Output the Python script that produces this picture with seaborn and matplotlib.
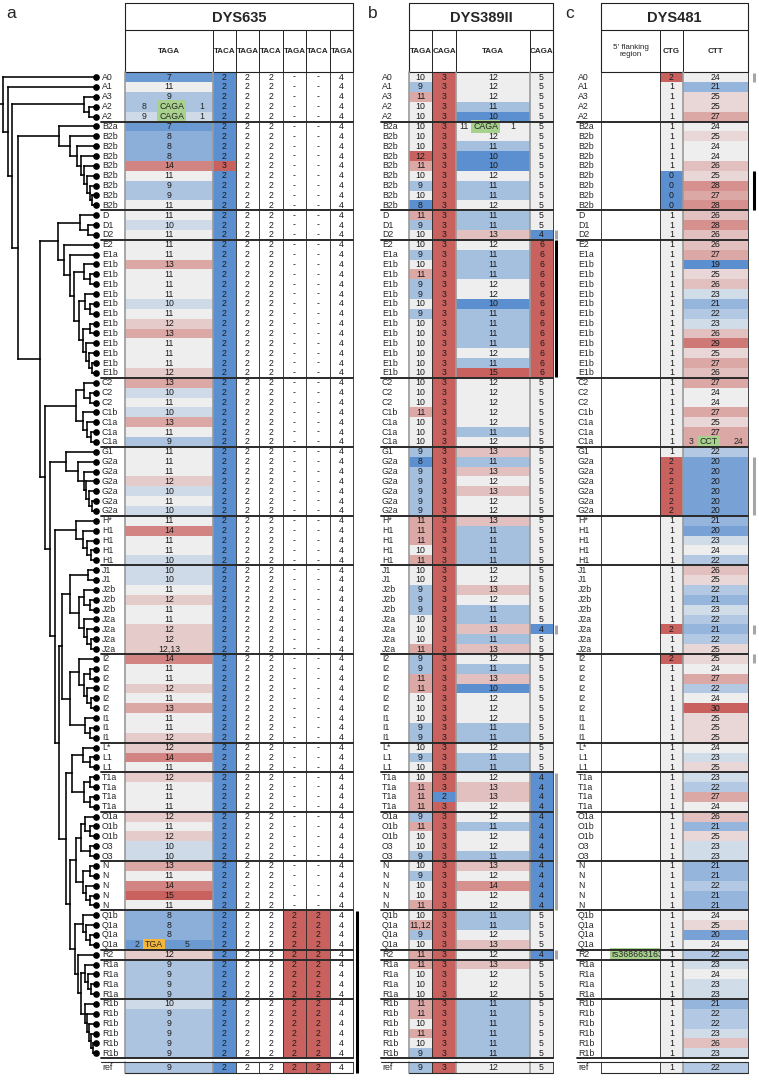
import re
import numpy as np
import matplotlib.pyplot as plt
import seaborn as sns
from matplotlib.colors import LinearSegmentedColormap, ListedColormap

sns.set_theme(style='white')
plt.rcParams['font.family'] = ['Liberation Sans Narrow', 'Liberation Sans', 'DejaVu Sans']

# ------------------------------------------------------------
# DATA  (one line per haplogroup block, rows top -> bottom)
# ------------------------------------------------------------
haplogroups_txt = """
A0 A1 A3 A2 A2
B2a B2b B2b B2b B2b B2b B2b B2b B2b
D D1 D2
E2 E1a E1b E1b E1b E1b E1b E1b E1b E1b E1b E1b E1b E1b
C2 C2 C2 C1b C1a C1a C1a
G1 G2a G2a G2a G2a G2a G2a
H* H1 H1 H1 H1
J1 J1 J2b J2b J2b J2a J2a J2a J2a
I2 I2 I2 I2 I2 I2 I1 I1 I1
L* L1 L1
T1a T1a T1a T1a
O1a O1b O1b O3 O3
N N N N N
Q1b Q1a Q1a Q1a
R2
R1a R1a R1a R1a
R1b R1b R1b R1b R1b R1b
"""
groups = [ln.split() for ln in haplogroups_txt.strip().splitlines()]
haplogroups = [h for g in groups for h in g]
group_sizes = [len(g) for g in groups]


def col(txt):
    return txt.split()


# DYS635  ("a+MOTIF+b" = interrupted repeat)
dys635_taga = col("""
7 11 9 8+CAGA+1 9+CAGA+1
7 8 8 8 14 11 9 9 11
11 10 11
11 11 13 11 11 11 10 11 12 13 11 11 11 12
13 10 11 10 13 11 9
11 11 11 12 10 11 10
11 14 11 11 10
10 10 11 12 11 11 12 12 12,13
14 11 11 12 11 13 11 11 12
12 14 11
12 11 11 11
12 11 12 10 10
13 11 14 15 11
8 8 8 2+TGA+5
12
9 9 9 9
10 9 9 9 9 9
""")
dys635_taca = col("""
2 2 2 2 2
2 2 2 2 3 2 2 2 2
2 2 2
2 2 2 2 2 2 2 2 2 2 2 2 2 2
2 2 2 2 2 2 2
2 2 2 2 2 2 2
2 2 2 2 2
2 2 2 2 2 2 2 2 2
2 2 2 2 2 2 2 2 2
2 2 2
2 2 2 2
2 2 2 2 2
2 2 2 2 2
2 2 2 2
2
2 2 2 2
2 2 2 2 2 2
""")
dys635_taga2 = ['2'] * len(haplogroups)
dys635_taca2 = ['2'] * len(haplogroups)
dys635_extra = col("""
- - - - -
- - - - - - - - -
- - -
- - - - - - - - - - - - - -
- - - - - - -
- - - - - - -
- - - - -
- - - - - - - - -
- - - - - - - - -
- - -
- - - -
- - - - -
- - - - -
2 2 2 2
2
2 2 2 2
2 2 2 2 2 2
""")
dys635_taga4 = ['4'] * len(haplogroups)

# DYS389II
dys389_taga1 = col("""
10 9 11 10 10
10 10 10 12 11 10 9 10 8
11 9 10
10 9 10 11 9 9 10 9 10 10 10 10 10 10
10 10 10 11 10 10 10
9 8 9 9 9 9 9
11 11 11 10 11
10 10 9 9 9 10 10 10 11
9 9 11 11 10 10 10 9 9
10 9 10
10 11 11 11
9 11 10 10 9
10 9 10 10 11
10 11,12 9 10
11
11 10 10 10
11 11 10 11 10 9
""")
dys389_caga1 = col("""
3 3 3 3 3
3 3 3 3 3 3 3 3 3
3 3 3
3 3 3 3 3 3 3 3 3 3 3 3 3 3
3 3 3 3 3 3 3
3 3 3 3 3 3 3
3 3 3 3 3
3 3 3 3 3 3 3 3 3
3 3 3 3 3 3 3 3 3
3 3 3
3 3 2 3
3 3 3 3 3
3 3 3 3 3
3 3 3 3
3
3 3 3 3
3 3 3 3 3 3
""")
dys389_taga2 = col("""
12 12 12 11 10
11+CAGA+1 12 11 10 10 12 11 11 12
11 11 13
12 11 11 11 12 12 10 11 11 11 11 12 11 15
12 12 12 12 12 11 12
13 11 13 12 13 12 12
13 11 11 11 11
12 12 13 12 11 11 13 11 13
12 11 13 10 12 12 12 11 11
12 11 11
12 13 13 12
12 11 12 12 11
13 12 14 12 12
11 11 12 13
12
13 12 12 12
11 11 11 11 11 11
""")
dys389_caga2 = col("""
5 5 5 5 5
5 5 5 5 5 5 5 5 5
5 5 4
6 6 6 6 6 6 6 6 6 6 6 6 6 6
5 5 5 5 5 5 5
5 5 5 5 5 5 5
5 5 5 5 5
5 5 5 5 5 5 4 5 5
5 5 5 5 5 5 5 5 5
5 5 5
4 4 4 4
4 4 4 4 4
4 4 4 4 4
5 5 5 5
4
5 5 5 5
5 5 5 5 5 5
""")

# DYS481  ("." = empty cell)
dys481_flank = col("""
. . . . .
. . . . . . . . .
. . .
. . . . . . . . . . . . . .
. . . . . . .
. . . . . . .
. . . . .
. . . . . . . . .
. . . . . . . . .
. . .
. . . .
. . . . .
. . . . .
. . . .
rs368663163
. . . .
. . . . . .
""")
dys481_ctg = col("""
2 1 1 1 1
1 1 1 1 1 0 0 0 0
1 1 1
1 1 1 1 1 1 1 1 1 1 1 1 1 1
1 1 1 1 1 1 1
1 2 2 2 2 2 2
1 1 1 1 1
1 1 1 1 1 1 2 1 1
2 1 1 1 1 1 1 1 1
1 1 1
1 1 1 1
1 1 1 1 1
1 1 1 1 1
1 1 1 1
1
1 1 1 1
1 1 1 1 1 1
""")
dys481_ctt = col("""
24 21 25 25 27
24 25 24 24 26 25 28 27 28
26 28 26
26 27 19 25 26 23 21 22 23 26 29 25 27 26
27 24 24 27 25 27 3+CCT+24
22 20 20 20 20 20 20
21 20 23 24 22
26 25 22 21 23 22 21 22 25
25 24 27 22 24 30 25 25 25
24 23 25
23 22 27 24
26 21 25 23 23
21 21 22 21 21
24 25 20 24
22
23 24 23 23
21 22 22 23 26 23
""")

ref_dys635 = ['9', '2', '2', '2', '2', '2', '4']
ref_dys389 = ['9', '3', '12', '5']
ref_dys481 = ['.', '1', '22']

# phylogeny (Newick, internal label = relative node depth, tips = 100)
tree_newick = (
    "(A0,(A1,((A3,(A2,A2)93)88,((B2a,(B2b,(B2b,(B2b,(B2b,(B2b,(B2b,(B2b,B2b)96)94)91)88)84)80)73)61,"
    "(((D,(D1,D2)92)83,(E2,(E1a,((E1b,(E1b,E1b)94)88,((E1b,(E1b,E1b)94)89,((E1b,E1b)94,"
    "(E1b,(E1b,(E1b,E1b)96)93)90)86)82)77)73)67)60,"
    "(((C2,(C2,C2)94)88,(C1b,(C1a,(C1a,C1a)95)91)86)79,"
    "((G1,(G2a,(G2a,(G2a,(G2a,(G2a,G2a)96)93)90)87)81)69,"
    "((H*,(H1,(H1,(H1,H1)95)91)86)79,"
    "((((J1,J1)92,((J2b,(J2b,J2b)94)88,(J2a,(J2a,(J2a,J2a)95)91)87)82)73,"
    "((I2,((I2,I2)94,(I2,(I2,I2)95)91)88)82,(I1,(I1,I1)94)89)73)65,"
    "(((L*,(L1,L1)94)86,((T1a,T1a)94,(T1a,T1a)94)88)75,"
    "((((O1a,(O1b,O1b)94)89,(O3,O3)94)84,((N,N)94,(N,(N,N)94)90)86)79,"
    "((Q1b,(Q1a,(Q1a,Q1a)94)90)86,(R2,((R1a,(R1a,(R1a,R1a)95)92)89,"
    "(R1b,(R1b,(R1b,(R1b,(R1b,R1b)97)95)93)91)89)84)81)78)73)69)61)57)52)47)42)19)12)8)3"
)

# ------------------------------------------------------------
# LAYOUT / STYLE
# ------------------------------------------------------------
W, H = 759, 1083
N = len(haplogroups)
ROW_TOP, ROW_H = 72.2, 9.86
MAIN_BOT = ROW_TOP + N * ROW_H
REF_TOP = MAIN_BOT + 3.5
REF_BOT = REF_TOP + 11.5
HEAD_TOP, HEAD_MID = 3, 30
TIP_X = 96
FS = 6.3
FS_HEAD = 5.8

BLUE, GREY, RED = '#5B8FCF', '#EFEFEF', '#C9625F'
div_cmap = LinearSegmentedColormap.from_list('div', [BLUE, GREY, RED])
white_cmap = ListedColormap(['white'])
flag_cmap = ListedColormap(['white', RED])
motif_colour = {'CAGA': '#A9D18E', 'CCT': '#A9D18E', 'TGA': '#F4B63A', 'rs': '#A9D18E'}
insert_pos = {('dys635_taga', 'CAGA'): (0.22, 0.53, 0.87),
              ('dys635_taga', 'TGA'): (0.14, 0.33, 0.71),
              ('dys389_taga2', 'CAGA'): (0.11, 0.40, 0.77),
              ('dys481_ctt', 'CCT'): (0.13, 0.40, 0.85)}

panels = [
    dict(letter='a', letter_x=6, label_x=101, title='DYS635',
         edges=[125, 213, 236, 259, 283, 306, 330, 353],
         edge_col=['#9a9a9a', '#9a9a9a', '#222', '#222', '#222', '#222', '#222', '#222'],
         marker_x=357,
         cols=[('dys635_taga', dys635_taga, ref_dys635[0], 'scale', (6.5, 11, 15), 'TAGA'),
               ('dys635_taca', dys635_taca, ref_dys635[1], 'scale', (2, 2.5, 3), 'TACA'),
               ('dys635_taga2', dys635_taga2, ref_dys635[2], 'white', None, 'TAGA'),
               ('dys635_taca2', dys635_taca2, ref_dys635[3], 'white', None, 'TACA'),
               ('dys635_taga3', dys635_extra, ref_dys635[4], 'flag', None, 'TAGA'),
               ('dys635_taca3', dys635_extra, ref_dys635[5], 'flag', None, 'TACA'),
               ('dys635_taga4', dys635_taga4, ref_dys635[6], 'white', None, 'TAGA')]),
    dict(letter='b', letter_x=368, label_x=381, title='DYS389II',
         edges=[409, 432, 456, 530, 553],
         edge_col=['#9a9a9a', '#222', '#9a9a9a', '#9a9a9a', '#222'],
         marker_x=556,
         cols=[('dys389_taga1', dys389_taga1, ref_dys389[0], 'scale', (8, 10, 12), 'TAGA'),
               ('dys389_caga1', dys389_caga1, ref_dys389[1], 'scale', (2, 2.5, 3), 'CAGA'),
               ('dys389_taga2', dys389_taga2, ref_dys389[2], 'scale', (10, 12, 15), 'TAGA'),
               ('dys389_caga2', dys389_caga2, ref_dys389[3], 'scale', (4, 5, 6), 'CAGA')]),
    dict(letter='c', letter_x=565, label_x=577, title='DYS481',
         edges=[601, 660, 683, 748],
         edge_col=['#222', '#222', '#9a9a9a', '#222'],
         marker_x=754,
         cols=[('dys481_flank', dys481_flank, ref_dys481[0], 'white', None, "5' flanking\nregion"),
               ('dys481_ctg', dys481_ctg, ref_dys481[1], 'scale', (0, 1, 2), 'CTG'),
               ('dys481_ctt', dys481_ctt, ref_dys481[2], 'scale', (19, 24, 30), 'CTT')]),
]

# rows flagged with a bar to the right of each table: value -> colour
marker_rules = [({'2': 'black'}, dys635_extra, ref_dys635[4]),
                ({'4': '#a6a6a6', '6': 'black'}, dys389_caga2, ref_dys389[3]),
                ({'2': '#a6a6a6', '0': 'black'}, dys481_ctg, ref_dys481[1])]


def numeric(tok):
    if '+' in tok:
        a, _, b = tok.split('+')
        return float(a) + float(b)
    return float(tok.split(',')[0])


def colour_values(tokens, kind, scale):
    if kind == 'scale':
        lo, mid, hi = scale
        v = np.array([numeric(t) for t in tokens])
        v = np.where(v < mid, (v - mid) / (mid - lo), (v - mid) / (hi - mid))
        return np.clip(v, -1, 1), div_cmap, -1, 1
    if kind == 'flag':
        return np.array([0.0 if t == '-' else 1.0 for t in tokens]), flag_cmap, 0, 1
    return np.zeros(len(tokens)), white_cmap, 0, 1


def row_top(i):
    return ROW_TOP + i * ROW_H if i < N else REF_TOP


def row_bot(i):
    return ROW_TOP + (i + 1) * ROW_H if i < N else REF_BOT


def row_mid(i):
    return (row_top(i) + row_bot(i)) / 2


fig = plt.figure(figsize=(W / 100, H / 100), dpi=100)


def draw_block(name, tokens, kind, scale, x0, x1, y0, y1):
    ax = fig.add_axes([x0 / W, 1 - y1 / H, (x1 - x0) / W, (y1 - y0) / H])
    vals, cmap, vmin, vmax = colour_values(tokens, kind, scale)
    annot = np.array([['' if ('+' in t or t == '.' or t.startswith('rs')) else t]
                      for t in tokens])
    sns.heatmap(vals.reshape(-1, 1), ax=ax, cmap=cmap, vmin=vmin, vmax=vmax,
                cbar=False, annot=annot, fmt='',
                annot_kws={'fontsize': FS, 'color': '#1a1a1a'},
                xticklabels=False, yticklabels=False)
    ax.set_axis_off()
    for i, t in enumerate(tokens):
        if '+' in t:
            left, motif, right = t.split('+')
            px = insert_pos[(name, motif)]
            ax.text(px[0], i + 0.5, left, ha='center', va='center', fontsize=FS)
            ax.text(px[1], i + 0.5, motif, ha='center', va='center', fontsize=FS,
                    bbox=dict(boxstyle='square,pad=0.2', fc=motif_colour[motif], ec='none'))
            ax.text(px[2], i + 0.5, right, ha='center', va='center', fontsize=FS)
        elif t.startswith('rs'):
            ax.text(0.62, i + 0.5, t, ha='center', va='center', fontsize=FS,
                    bbox=dict(boxstyle='square,pad=0.2', fc=motif_colour['rs'], ec='none'))


for p in panels:
    for (name, tokens, ref, kind, scale, _), x0, x1 in zip(p['cols'], p['edges'][:-1], p['edges'][1:]):
        draw_block(name, tokens, kind, scale, x0, x1, ROW_TOP, MAIN_BOT)
        draw_block(name, [ref], kind, scale, x0, x1, REF_TOP, REF_BOT)

# overlay for tree, labels, rules and headers (pixel coordinates)
ov = fig.add_axes([0, 0, 1, 1], zorder=10)
ov.set_xlim(0, W)
ov.set_ylim(H, 0)
ov.set_axis_off()
ov.patch.set_alpha(0)

group_bounds = np.cumsum(group_sizes)[:-1]

for p, (rule, tokens, ref) in zip(panels, marker_rules):
    e = p['edges']
    x_first, x_last = e[0], e[-1]
    ov.text(p['letter_x'], 14, p['letter'], fontsize=12.5, va='center', ha='left')
    # header
    for y in (HEAD_TOP, HEAD_MID, ROW_TOP):
        ov.plot([x_first, x_last], [y, y], color='#222', lw=0.8)
    ov.plot([x_first, x_first], [HEAD_TOP, ROW_TOP], color='#222', lw=0.8)
    ov.plot([x_last, x_last], [HEAD_TOP, ROW_TOP], color='#222', lw=0.8)
    for x in e[1:-1]:
        ov.plot([x, x], [HEAD_MID, ROW_TOP], color='#222', lw=0.7)
    ov.text((x_first + x_last) / 2, (HEAD_TOP + HEAD_MID) / 2 + 1, p['title'],
            fontsize=10.5, fontweight='bold', ha='center', va='center')
    for c, x0, x1 in zip(p['cols'], e[:-1], e[1:]):
        multi = '\n' in c[5]
        ov.text((x0 + x1) / 2, (HEAD_MID + ROW_TOP) / 2, c[5], ha='center', va='center',
                fontsize=FS_HEAD, fontweight='normal' if multi else 'bold', linespacing=1.1)
    # column edges
    for x, ec in zip(e, p['edge_col']):
        lw = 1.2 if ec != '#222' else 0.6
        ov.plot([x, x], [ROW_TOP, MAIN_BOT], color=ec, lw=lw)
        ov.plot([x, x], [REF_TOP, REF_BOT], color=ec, lw=lw)
    # row labels
    for i, h in enumerate(haplogroups + ['ref']):
        ov.text(p['label_x'] + 1, row_mid(i), h, fontsize=FS, ha='left', va='center')
    # block separators
    for b in group_bounds:
        y = ROW_TOP + b * ROW_H
        ov.plot([p['label_x'], x_last], [y, y], color='#2a2a2a', lw=1.4)
    ov.plot([p['label_x'], x_last], [MAIN_BOT, MAIN_BOT], color='#2a2a2a', lw=1.4)
    ov.plot([p['label_x'], x_last], [REF_TOP, REF_TOP], color='#2a2a2a', lw=0.8)
    ov.plot([x_first, x_last], [REF_BOT, REF_BOT], color='#2a2a2a', lw=0.8)
    # marker bars for rows that differ
    flags = [rule.get(t) for t in tokens + [ref]]
    i = 0
    while i < len(flags):
        if flags[i] is None:
            i += 1
            continue
        j = i
        while j + 1 < len(flags) and flags[j + 1] == flags[i]:
            j += 1
        ov.plot([p['marker_x']] * 2, [row_top(i) + 0.5, row_bot(j) - 0.5],
                color=flags[i], lw=2.2, solid_capstyle='butt')
        i = j + 1


# dendrogram
def parse_newick(s):
    pos = 0

    def node():
        nonlocal pos
        if s[pos] == '(':
            pos += 1
            kids = [node()]
            while s[pos] == ',':
                pos += 1
                kids.append(node())
            pos += 1
            m = re.match(r'[0-9.]+', s[pos:])
            pos += m.end()
            return (float(m.group()), kids)
        m = re.match(r'[^,()]+', s[pos:])
        pos += m.end()
        return m.group()

    return node()


tree = parse_newick(tree_newick)
leaf_iter = iter(range(N))
TREE_KW = dict(color='black', lw=1.15, solid_capstyle='projecting')


def depth_x(d):
    return d / 100 * TIP_X


def draw_tree(node, parent_x):
    if isinstance(node, str):
        y = row_mid(next(leaf_iter))
        ov.plot([parent_x, TIP_X], [y, y], **TREE_KW)
        ov.plot(TIP_X, y, 'o', color='black', ms=3.8)
        return y
    d, kids = node
    x = depth_x(d)
    ys = [draw_tree(k, x) for k in kids]
    y = (ys[0] + ys[-1]) / 2
    ov.plot([x, x], [ys[0], ys[-1]], **TREE_KW)
    ov.plot([parent_x, x], [y, y], **TREE_KW)
    return y


draw_tree(tree, 0)

fig.savefig('out.png', dpi=100)
